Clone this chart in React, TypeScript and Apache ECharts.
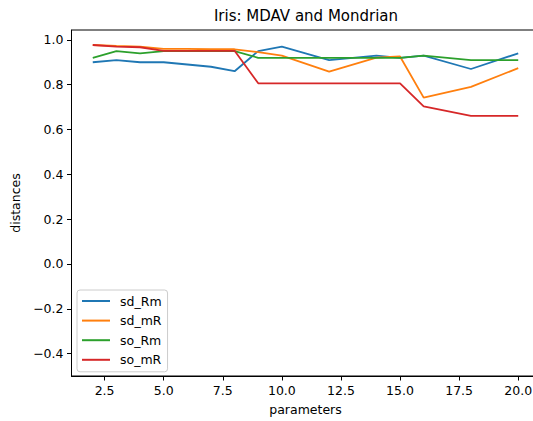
import React, { useEffect, useRef } from "react";
import * as echarts from "echarts";

// Parameter values (x) and the distance measured for each method
const params = [2, 3, 4, 5, 6, 7, 8, 9, 10, 12, 14, 15, 16, 18, 20];
const sdRm = [0.90, 0.91, 0.90, 0.90, 0.89, 0.88, 0.86, 0.95, 0.97, 0.91, 0.93, 0.92, 0.93, 0.87, 0.94];
const sdmR = [0.977, 0.973, 0.97, 0.96, 0.96, 0.958, 0.958, 0.945, 0.93, 0.858, 0.921, 0.926, 0.742, 0.79, 0.874];
const soRm = [0.92, 0.95, 0.94, 0.95, 0.95, 0.95, 0.95, 0.92, 0.92, 0.92, 0.92, 0.92, 0.93, 0.91, 0.91];
const somR = [0.977, 0.97, 0.967, 0.951, 0.951, 0.951, 0.951, 0.806, 0.806, 0.806, 0.806, 0.806, 0.703, 0.661, 0.661];

const seriesNames = ["sd_Rm", "sd_mR", "so_Rm", "so_mR"];
const seriesColors = ["#1f77b4", "#ff7f0e", "#2ca02c", "#d62728"];

const xTicks = [2.5, 5.0, 7.5, 10.0, 12.5, 15.0, 17.5, 20.0];
const yTicks = [-0.4, -0.2, 0.0, 0.2, 0.4, 0.6, 0.8, 1.0];

const FONT = "DejaVu Sans";

const fmt = (v: number) => v.toFixed(1).replace("-", "\u2212");

export default function App() {
  const ref = useRef<HTMLDivElement>(null);

  useEffect(() => {
    if (!ref.current) return;
    const chart = echarts.init(ref.current, null, { renderer: "svg" });
    const values = [sdRm, sdmR, soRm, somR];

    const axisCommon = {
      type: "value" as const,
      axisLine: { show: true, onZero: false, lineStyle: { color: "#000", width: 1 } },
      axisTick: { show: true, inside: false, length: 4.5, lineStyle: { color: "#000", width: 1 } },
      splitLine: { show: false },
      nameTextStyle: { fontFamily: FONT, fontSize: 12.5, color: "#000" },
    };

    chart.setOption({
      animation: false,
      backgroundColor: "#fff",
      graphic: [
        {
          type: "text",
          x: 306,
          y: 16.4,
          style: {
            text: "Iris: MDAV and Mondrian",
            fontFamily: FONT,
            fontSize: 15,
            fill: "#000",
            textAlign: "center",
            textVerticalAlign: "middle",
          },
        },
      ],
      grid: {
        left: 71.5,
        top: 30,
        width: 468,
        height: 349,
        show: true,
        borderColor: "#000",
        borderWidth: 1,
        backgroundColor: "transparent",
        containLabel: false,
      },
      xAxis: {
        ...axisCommon,
        min: 1.1,
        max: 20.9,
        name: "parameters",
        nameLocation: "middle",
        nameGap: 27,
        axisTick: { ...axisCommon.axisTick, customValues: xTicks },
        axisLabel: {
          customValues: xTicks,
          formatter: (v: number) => fmt(v),
          fontFamily: FONT,
          fontSize: 12.5,
          color: "#000",
          margin: 8,
        },
      },
      yAxis: {
        ...axisCommon,
        min: -0.5,
        max: 1.044,
        name: "distances",
        nameLocation: "middle",
        nameGap: 45,
        axisTick: { ...axisCommon.axisTick, customValues: yTicks },
        axisLabel: {
          customValues: yTicks,
          formatter: (v: number) => fmt(v),
          fontFamily: FONT,
          fontSize: 12.5,
          color: "#000",
          margin: 8,
        },
      },
      legend: {
        orient: "vertical",
        left: 77,
        top: 290,
        padding: [4, 6, 5, 5],
        itemGap: 5.6,
        itemWidth: 28,
        itemHeight: 2,
        icon: "rect",
        backgroundColor: "rgba(255,255,255,0.8)",
        borderColor: "#cccccc",
        borderWidth: 1,
        borderRadius: 3,
        textStyle: {
          fontFamily: FONT,
          fontSize: 12.5,
          color: "#000",
          lineHeight: 14,
          padding: [0, 0, 0, 5],
        },
        data: seriesNames,
      },
      series: seriesNames.map((name, i) => ({
        name,
        type: "line",
        symbol: "none",
        color: seriesColors[i],
        lineStyle: { width: 1.8, color: seriesColors[i] },
        data: params.map((x, j) => [x, values[i][j]]),
        z: 2 + i,
      })),
    });

    return () => chart.dispose();
  }, []);

  // The plot frame runs past the right edge of the visible area, so the
  // chart canvas is wider than its clipping wrapper.
  return (
    <div
      style={{
        position: "absolute",
        left: 0,
        top: 0,
        width: 533,
        height: 421,
        overflow: "hidden",
      }}
    >
      <div ref={ref} style={{ width: 548, height: 421 }} />
    </div>
  );
}
